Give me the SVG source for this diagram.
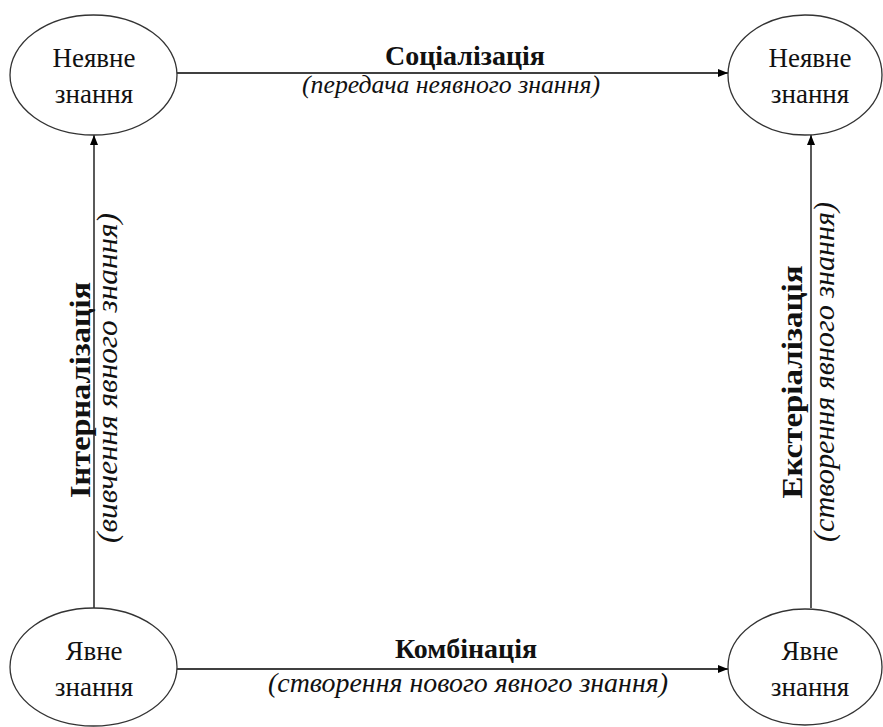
<svg xmlns="http://www.w3.org/2000/svg" width="883" height="727" viewBox="0 0 883 727">
<defs>
<marker id="arr" viewBox="0 0 10 10" refX="10" refY="5" markerWidth="10" markerHeight="10" markerUnits="userSpaceOnUse" orient="auto">
<path d="M0,1 L10,5 L0,9 Z" fill="#000"/>
</marker>
<style>
.node ellipse{fill:#fff;stroke:#333;stroke-width:1.3}
.b{font-weight:bold}
.i{font-style:italic}
.edge line{stroke:#000;stroke-width:1.3;marker-end:url(#arr)}
</style>
</defs>
<rect width="883" height="727" fill="#fff"/>
<g id="connectors" class="edge">
<line x1="177" y1="73" x2="728" y2="73"/>
<line x1="94" y1="608" x2="94" y2="135"/>
<line x1="811" y1="608" x2="811" y2="135"/>
<line x1="177" y1="669" x2="728" y2="669"/>
</g>
<g font-family="Liberation Serif" font-size="27" fill="#111" text-anchor="middle">
<g id="labels">
<text class="b" x="465" y="65" font-size="28" textLength="160" lengthAdjust="spacingAndGlyphs">Соціалізація</text>
<text class="i" x="451" y="93" font-size="26" textLength="298" lengthAdjust="spacingAndGlyphs">(передача неявного знання)</text>
<text class="b" x="466" y="658" font-size="28" textLength="142" lengthAdjust="spacingAndGlyphs">Комбінація</text>
<text class="i" x="468" y="692" font-size="27.5" textLength="400" lengthAdjust="spacingAndGlyphs">(створення нового явного знання)</text>
<text class="b" transform="translate(90,390) rotate(-90)" font-size="30" textLength="216" lengthAdjust="spacingAndGlyphs">Інтерналізація</text>
<text class="i" transform="translate(117,378) rotate(-90)" font-size="30" textLength="330" lengthAdjust="spacingAndGlyphs">(вивчення явного знання)</text>
<text class="b" transform="translate(802,382) rotate(-90)" font-size="30" textLength="233" lengthAdjust="spacingAndGlyphs">Екстеріалізація</text>
<text class="i" transform="translate(834,372) rotate(-90)" font-size="30" textLength="340" lengthAdjust="spacingAndGlyphs">(створення явного знання)</text>
</g>
<g id="node-tl" class="node">
<ellipse cx="93.5" cy="75" rx="83.5" ry="60"/>
<text x="94" y="67">Неявне</text>
<text x="94" y="103">знання</text>
</g>
<g id="node-tr" class="node">
<ellipse cx="805" cy="75" rx="77" ry="60"/>
<text x="810" y="67">Неявне</text>
<text x="810" y="103">знання</text>
</g>
<g id="node-bl" class="node">
<ellipse cx="93.5" cy="667" rx="83.5" ry="59"/>
<text x="94" y="660">Явне</text>
<text x="94" y="696">знання</text>
</g>
<g id="node-br" class="node">
<ellipse cx="805" cy="667" rx="77" ry="58"/>
<text x="810" y="660">Явне</text>
<text x="810" y="696">знання</text>
</g>
</g>
</svg>
